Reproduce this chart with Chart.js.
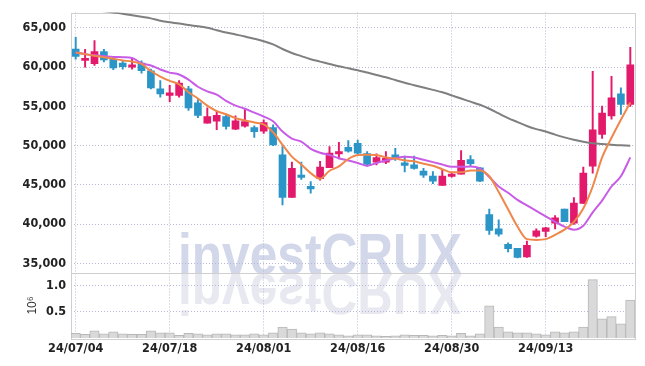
<!DOCTYPE html>
<html>
<head>
<meta charset="utf-8">
<script src="https://cdn.jsdelivr.net/npm/chart.js@4.4.1/dist/chart.umd.min.js"></script>
<style>
  html, body { margin: 0; padding: 0; background: #fff; }
  #wrap { width: 645px; height: 366px; }
</style>
</head>
<body>
<div id="wrap"><canvas id="stockChart"></canvas></div>
<script>
const dates = [
  '24/07/04', '24/07/05', '24/07/08', '24/07/09', '24/07/10', '24/07/11', '24/07/12', '24/07/15', '24/07/16', '24/07/17',
  '24/07/18', '24/07/19', '24/07/22', '24/07/23', '24/07/24', '24/07/25', '24/07/26', '24/07/29', '24/07/30', '24/07/31',
  '24/08/01', '24/08/02', '24/08/05', '24/08/06', '24/08/07', '24/08/08', '24/08/09', '24/08/12', '24/08/13', '24/08/14',
  '24/08/16', '24/08/19', '24/08/20', '24/08/21', '24/08/22', '24/08/23', '24/08/26', '24/08/27', '24/08/28', '24/08/29',
  '24/08/30', '24/09/02', '24/09/03', '24/09/04', '24/09/05', '24/09/06', '24/09/09', '24/09/10', '24/09/11', '24/09/12',
  '24/09/13', '24/09/19', '24/09/20', '24/09/23', '24/09/24', '24/09/25', '24/09/26', '24/09/27', '24/09/30', '24/10/02'
];

const opens = [
  62300, 60850, 60420, 61980, 61010, 60500, 60000, 60500, 59530, 57230,
  56380, 56380, 57230, 55460, 52860, 53110, 53700, 52100, 52480, 52310,
  51850, 52310, 48820, 43410, 46240, 44830, 45800, 47190, 48950, 49790,
  50300, 48990, 47900, 47900, 48820, 47820, 47570, 46770, 46120, 44950,
  46080, 46360, 48240, 47190, 41210, 39410, 37430, 36940, 35840, 38480,
  39070, 40130, 41930, 40130, 42630, 47400, 51430, 53780, 56600, 55250
];
const highs = [
  63780, 62270, 63360, 62270, 61350, 60760, 61100, 60800, 59750, 58270,
  57690, 58270, 57560, 55880, 54830, 54420, 53990, 53780, 54620, 52520,
  53280, 52650, 49880, 47900, 47900, 45430, 47990, 49880, 50420, 50640,
  50720, 49250, 48950, 49250, 49670, 48660, 48660, 47100, 46690, 46900,
  46500, 49380, 48750, 47250, 41930, 40550, 37640, 36940, 37860, 39410,
  39600, 41100, 41930, 43400, 47270, 59460, 55050, 58830, 57350, 62520
];
const lows = [
  61010, 60000, 60210, 60670, 59660, 59750, 59750, 59240, 57230, 56180,
  55590, 56180, 54490, 53570, 52860, 52020, 52100, 52020, 52350, 51050,
  51560, 50000, 42450, 43410, 45690, 43950, 45590, 47190, 48320, 49160,
  48750, 47380, 47560, 47690, 48120, 46640, 47000, 45940, 45170, 44950,
  45990, 46360, 47400, 45400, 38690, 38490, 36470, 35700, 35770, 38360,
  38400, 39410, 40330, 39960, 42630, 46500, 50930, 53360, 53990, 55000
];
const closes = [
  61350, 61050, 61980, 60920, 59910, 60040, 60290, 59530, 57350, 56600,
  56720, 57980, 54800, 53860, 53700, 53860, 52440, 53160, 53070, 51770,
  52940, 50080, 43410, 47100, 45940, 44490, 47270, 49040, 49250, 49290,
  49040, 47600, 48490, 48400, 48450, 47490, 47100, 46240, 45490, 46120,
  46370, 48120, 47690, 45490, 39200, 38730, 36900, 35770, 37310, 39160,
  39540, 40800, 40330, 42690, 46500, 52020, 54160, 56090, 55250, 60290
];

// moving averages
const maShort = [
  61850, 61650, 61450, 61250, 61050, 60850, 60700, 60400, 59500, 58800,
  58250, 57800, 56800, 56000, 55100, 54400, 54000, 53500, 53200, 52950,
  52700, 51700, 50100, 48600, 47600, 46500, 45800, 46800, 47350, 48300,
  48800, 48850, 48800, 48500, 48350, 48150, 48000, 47700, 47450, 47000,
  46600, 46600, 46850, 46850, 46100, 44100, 41900, 39700, 38100, 38000,
  38100, 38650, 39300, 40300, 42000, 44800, 48500, 51000, 53300, 55500
];
const maMid = [
  61850, 61650, 61500, 61400, 61300, 61250, 61150, 60500, 60200, 59700,
  59300, 59050, 58400, 57500, 56900, 56500, 55700, 55100, 54700, 54200,
  53700, 53100, 51800, 50900, 50500, 49600, 49100, 48800, 48400, 48100,
  47800, 47450, 47800, 48100, 48400, 48600, 48500, 48200, 47900, 47600,
  47300, 47300, 47350, 47100, 46000, 44800, 44000, 43100, 42400, 41700,
  41000, 40300, 39700, 39300, 39800, 41500, 43000, 44800, 46100, 48500
];
const maLong = [
  67600, 67400, 67250, 67100, 66950, 66800, 66600, 66400, 66200, 65900,
  65700, 65550, 65350, 65200, 65000, 64700, 64400, 64150, 63900, 63600,
  63300, 62900, 62300, 61800, 61400, 61000, 60700, 60400, 60100, 59850,
  59600, 59300, 59000, 58700, 58350, 58000, 57700, 57400, 57100, 56800,
  56400, 56000, 55600, 55200, 54700, 54100, 53500, 53000, 52500, 52100,
  51800, 51400, 51050, 50750, 50500, 50300, 50200, 50100, 50050, 50000
];

// volume in millions of shares
const volume = [
  0.09, 0.07, 0.14, 0.08, 0.12, 0.08, 0.07, 0.07, 0.14, 0.10,
  0.10, 0.05, 0.09, 0.08, 0.06, 0.08, 0.08, 0.06, 0.06, 0.08,
  0.06, 0.10, 0.21, 0.17, 0.10, 0.08, 0.10, 0.08, 0.06, 0.04,
  0.06, 0.06, 0.04, 0.03, 0.04, 0.06, 0.05, 0.05, 0.04, 0.05,
  0.04, 0.09, 0.04, 0.08, 0.62, 0.21, 0.12, 0.10, 0.10, 0.08,
  0.06, 0.12, 0.10, 0.12, 0.21, 1.12, 0.37, 0.41, 0.27, 0.73
];

const priceTicks = [35000, 40000, 45000, 50000, 55000, 60000, 65000];
const volumeTicks = [0.5, 1.0];
const labelEvery = 10;

const upColor = '#e3196b';
const downColor = '#2b95c8';
const gridColor = '#b6bad6';
const frameColor = '#cfcfcf';
const tickFont = { family: '"DejaVu Sans Condensed", "DejaVu Sans", sans-serif', size: 12.5, weight: 'bold' };

const candleColors = closes.map((c, i) => (c >= opens[i] ? upColor : downColor));

// big "investCRUX" mark with its mirror image, behind everything
const watermark = {
  id: 'watermark',
  beforeDraw(chart) {
    const ctx = chart.ctx;
    const area = chart.chartArea;
    const baseY = chart.scales.y.bottom + 1;
    const x = area.left + 107;
    ctx.save();
    ctx.font = 'bold 57px "Liberation Sans", sans-serif';
    ctx.textBaseline = 'alphabetic';
    ctx.textAlign = 'left';
    ctx.fillStyle = '#d2d7ea';
    ctx.fillText('investCRUX', x, baseY, 284);
    ctx.translate(0, baseY * 2);
    ctx.scale(1, -1);
    ctx.fillStyle = '#e8e8f0';
    ctx.fillText('investCRUX', x, baseY, 284);
    ctx.restore();
  }
};

const frame = {
  id: 'frame',
  beforeDatasetsDraw(chart) {
    const ctx = chart.ctx;
    const a = chart.chartArea;
    const sep = Math.round(chart.scales.y.bottom) + 0.5;
    ctx.save();
    ctx.strokeStyle = frameColor;
    ctx.lineWidth = 1;
    ctx.strokeRect(Math.round(a.left) + 0.5, Math.round(a.top) + 0.5,
      Math.round(a.right - a.left), Math.round(a.bottom - a.top));
    ctx.beginPath();
    ctx.moveTo(a.left, sep);
    ctx.lineTo(a.right, sep);
    ctx.stroke();
    ctx.restore();
  }
};

new Chart(document.getElementById('stockChart'), {
  type: 'bar',
  data: {
    labels: dates,
    datasets: [
      {
        type: 'line', label: 'MA short', data: maShort, yAxisID: 'y', order: 0,
        borderColor: '#ef874b', borderWidth: 2, pointRadius: 0, cubicInterpolationMode: 'monotone'
      },
      {
        type: 'line', label: 'MA mid', data: maMid, yAxisID: 'y', order: 1,
        borderColor: '#c85ce6', borderWidth: 2, pointRadius: 0, cubicInterpolationMode: 'monotone'
      },
      {
        type: 'line', label: 'MA long', data: maLong, yAxisID: 'y', order: 2,
        borderColor: '#7f7f7f', borderWidth: 2, pointRadius: 0, cubicInterpolationMode: 'monotone'
      },
      {
        label: 'body', data: opens.map((o, i) => [o, closes[i]]), yAxisID: 'y', order: 3,
        backgroundColor: candleColors, barThickness: 7, minBarLength: 2, grouped: false
      },
      {
        label: 'wick', data: lows.map((l, i) => [l, highs[i]]), yAxisID: 'y', order: 4,
        backgroundColor: candleColors, barThickness: 1.3, grouped: false
      },
      {
        label: 'volume', data: volume, yAxisID: 'vol', order: 5,
        backgroundColor: '#d9d9d9', borderColor: '#b8b8b8', borderWidth: 1,
        categoryPercentage: 1, barPercentage: 1, grouped: false
      }
    ]
  },
  options: {
    responsive: true,
    maintainAspectRatio: false,
    animation: false,
    layout: { padding: { top: 9, right: 10, left: 0, bottom: 0 } },
    plugins: { legend: { display: false }, tooltip: { enabled: false } },
    scales: {
      x: {
        type: 'category',
        offset: true,
        grid: {
          offset: false,
          drawTicks: false,
          color: c => (c.index % labelEvery === 0 ? gridColor : 'rgba(0,0,0,0)')
        },
        border: { display: false, dash: [1, 2] },
        ticks: {
          autoSkip: false, maxRotation: 0, padding: 3,
          color: '#222', font: tickFont,
          callback: (v, i) => (i % labelEvery === 0 ? dates[i] : '')
        },
        afterFit: s => { s.height = 28; }
      },
      vol: {
        type: 'linear', position: 'left', stack: 'panes', stackWeight: 1,
        min: 0, max: 1.25,
        grid: { color: gridColor, drawTicks: false },
        border: { display: false, dash: [1, 2] },
        title: {
          display: true, text: '10⁶', color: '#333',
          font: { family: '"Liberation Sans", sans-serif', size: 12 },
          padding: { top: 25, bottom: 0 }
        },
        ticks: { padding: 5, color: '#222', font: tickFont, callback: v => v.toFixed(1) },
        afterBuildTicks: s => { s.ticks = volumeTicks.map(v => ({ value: v })); },
        afterFit: s => { s.width = 71; }
      },
      y: {
        type: 'linear', position: 'left', stack: 'panes', stackWeight: 4,
        min: 33800, max: 66950,
        grid: { color: gridColor, drawTicks: false },
        border: { display: false, dash: [1, 2] },
        ticks: { padding: 5, color: '#222', font: tickFont, callback: v => v.toLocaleString('en-US') },
        afterBuildTicks: s => { s.ticks = priceTicks.map(v => ({ value: v })); },
        afterFit: s => { s.width = 71; }
      }
    }
  },
  plugins: [watermark, frame]
});
</script>
</body>
</html>
